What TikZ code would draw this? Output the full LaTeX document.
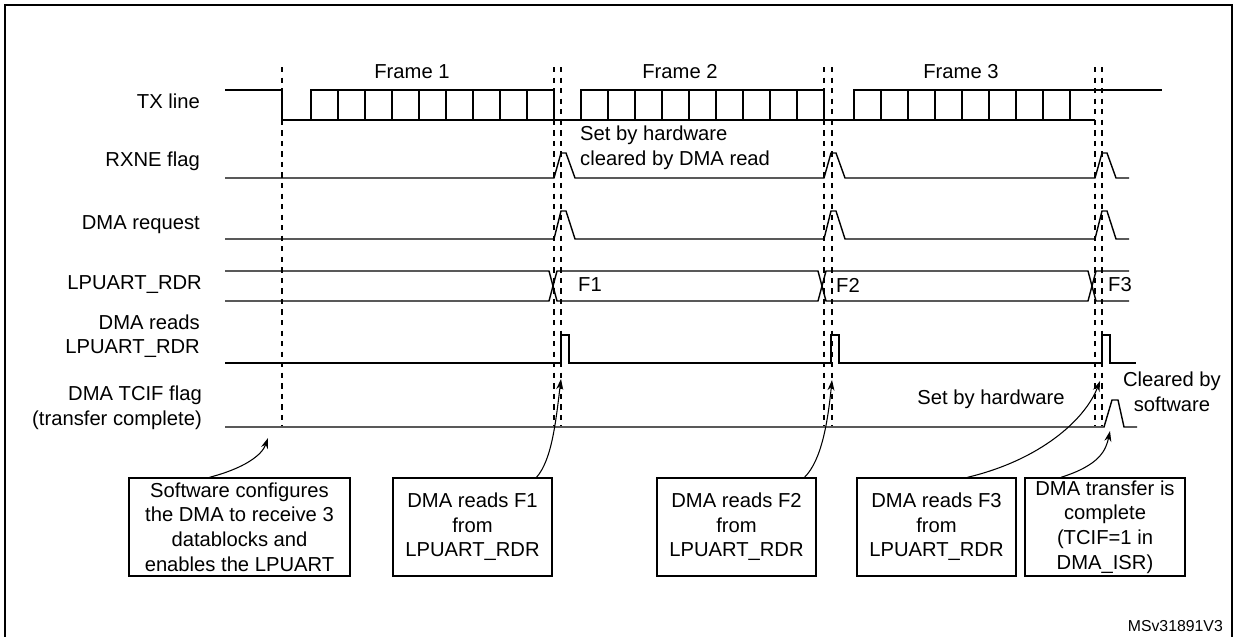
\documentclass[tikz,border=0pt]{standalone}
\usepackage{fontspec}
\setmainfont{Liberation Sans}
\usepackage{tikz}
\usetikzlibrary{arrows.meta, positioning, calc}

\tikzset{
    wave/.style={line width=0.8pt},
    guide/.style={dashed, line width=0.6pt},
    txt/.style={font=\fontsize{11.5}{14}\selectfont},
    sig/.style={txt, align=right, anchor=east},
    note/.style={draw, line width=0.8pt, txt, align=center, inner sep=0pt, minimum height=1.96cm},
    callout/.style={-{Stealth[length=6pt,width=4pt]}, line width=0.6pt}
}

\begin{document}
\begin{tikzpicture}[x=0.02cm, y=-0.02cm]
    \useasboundingbox (0,0) rectangle (1237,636);
    % Frame
    \draw[line width=1pt] (5,645) -- (5,5) -- (1232,5) -- (1232,645);

    % Signal names
    \node[sig] (tx) at (206,101) {TX line};
    \node[sig] (rxne) at (206,161) {RXNE flag};
    \node[sig] (req) at (206,225) {DMA request};
    \node[sig] (rdr) at (208,285) {LPUART\_RDR};
    \node[sig] (rd) at (206,336) {DMA reads\\LPUART\_RDR};
    \node[sig] (tcif) at (208,408) {DMA TCIF flag\\(transfer complete)};

    % Frame titles
    \foreach \n/\x in {1/412, 2/680, 3/961}
        \node[txt] (fr\n) at (\x,72) {Frame \n};

    % Guide lines
    \foreach \x in {282, 554, 561, 824, 832, 1095, 1102}
        \draw[guide] (\x,67) -- (\x,426);

    % TX line
    \draw[wave] (225,90) -- (282,90) -- (282,120) -- (554,120) (554,90) -- (554,120) -- (824,120)
        (824,90) -- (824,120) -- (1095,120);
    \draw[wave] (527,90) -- (554,90) (797,90) -- (824,90) (1070,90) -- (1162,90);
    \foreach \s in {311, 581, 854}
        \foreach \i in {0,...,7}
            \draw[wave] (\s+27*\i,120) rectangle (\s+27*\i+27,90);

    % RXNE flag and DMA request
    \foreach \y/\h in {178/153, 239/211}{
        \draw[wave] (225,\y) -- (554,\y) -- (561,\h) -- (566,\h) -- (575,\y) -- (824,\y)
            -- (831,\h) -- (836,\h) -- (845,\y) -- (1095,\y) -- (1102,\h) -- (1107,\h)
            -- (1116,\y) -- (1129,\y);
    }

    % LPUART_RDR
    \draw[wave] (225,271) -- (549,271) -- (557,301) -- (818,301) -- (826,271) -- (1088,271)
        -- (1096,301) -- (1129,301);
    \draw[wave] (225,301) -- (549,301) -- (557,271) -- (818,271) -- (826,301) -- (1088,301)
        -- (1096,271) -- (1129,271);
    \node[txt, anchor=west] (f1) at (572,285) {F1};
    \node[txt, anchor=west] (f2) at (830,285) {F2};
    \node[txt, anchor=west] (f3) at (1102,285) {F3};

    % DMA reads
    \draw[wave] (225,363) -- (561,363) -- (561,335) -- (569,335) -- (569,363) -- (831,363)
        -- (831,335) -- (839,335) -- (839,363) -- (1102,363) -- (1102,335) -- (1110,335)
        -- (1110,363) -- (1136,363);

    % DMA TCIF flag
    \draw[wave] (225,427) -- (1104,427) -- (1112,400) -- (1118,400) -- (1124,427) -- (1137,427);

    % Comments on the waveforms
    \node[txt, align=left, anchor=west] (hwclr) at (574,148) {Set by hardware\\cleared by DMA read};
    \node[txt] (hwset) at (991,399) {Set by hardware};
    \node[txt, align=center] (swclr) at (1172,392) {Cleared by\\software};
    \node[font=\fontsize{9}{11}\selectfont, anchor=east] (ref) at (1229,626) {MSv31891V3};

    % Boxes
    \node[note, minimum width=4.42cm] (cfg) at (239.5,527) {Software configures\\the DMA to receive 3\\datablocks and\\enables the LPUART};
    \node[note, minimum width=3.18cm] (rf1) at (472.5,527) {DMA reads F1\\from\\LPUART\_RDR};
    \node[note, minimum width=3.18cm] (rf2) at (736.5,527) {DMA reads F2\\from\\LPUART\_RDR};
    \node[note, minimum width=3.18cm] (rf3) at (936.5,527) {DMA reads F3\\from\\LPUART\_RDR};
    \node[note, minimum width=3.2cm] (done) at (1105,527) {DMA transfer is\\complete\\(TCIF=1 in\\DMA\_ISR)};

    % Pointers
    \coordinate (p0) at (268,438);
    \coordinate (p1) at (561,379);
    \coordinate (p2) at (832,380);
    \coordinate (p3) at (1100,381);
    \coordinate (p4) at (1110,431);
    \draw[callout] ($(cfg.north)+(-30,0)$) .. controls (245,468) and (262,455) .. (p0);
    \draw[callout] ($(rf1.north)+(64,0)$) .. controls (552,460) and (556,420) .. (p1);
    \draw[callout] ($(rf2.north)+(68,0)$) .. controls (822,460) and (828,420) .. (p2);
    \draw[callout] ($(rf3.north)+(31,0)$) .. controls (1040,460) and (1085,420) .. (p3);
    \draw[callout] ($(done.north)+(-44,0)$) .. controls (1100,465) and (1106,450) .. (p4);
\end{tikzpicture}
\end{document}
